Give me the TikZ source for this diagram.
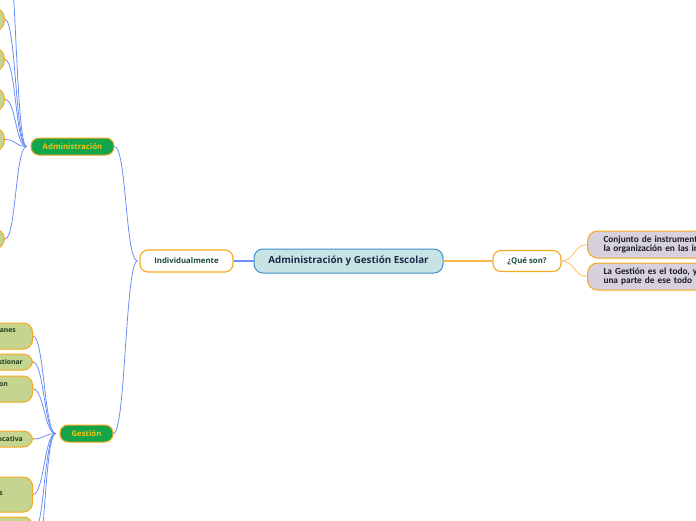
\documentclass[tikz,border=0pt]{standalone}
\usepackage{fontspec}
\setmainfont{Open Sans}
\newfontfamily\narrowfont[WordSpace=0.6]{Carlito}
\definecolor{rootfill}{HTML}{C8E3E3}
\definecolor{rootdraw}{HTML}{3E8FCB}
\definecolor{roottext}{HTML}{1B2B4B}
\definecolor{orangedraw}{HTML}{F7A81E}
\definecolor{orangelink}{HTML}{FDB64C}
\definecolor{greenfill}{HTML}{12A54A}
\definecolor{greentext}{HTML}{F4C20F}
\definecolor{olivefill}{HTML}{C5D48E}
\definecolor{olivetext}{HTML}{1F3B1A}
\definecolor{greyfill}{HTML}{D6D1DC}
\definecolor{greytext}{HTML}{1A1A2A}
\definecolor{bluelink}{HTML}{6B8EF5}
\definecolor{indtext}{HTML}{1D4A38}

\begin{document}
\begin{tikzpicture}[x=1pt, y=-1pt,
  rootbox/.style={draw=rootdraw, fill=rootfill, line width=1pt, rounded corners=9pt,
    inner sep=0pt, text=roottext, font=\fontsize{9.8}{11}\selectfont\bfseries},
  plainbox/.style={draw=orangedraw, fill=white, line width=1.1pt, rounded corners=8pt,
    inner sep=0pt, text=indtext, font=\fontsize{7.8}{9}\selectfont\bfseries},
  greenbox/.style={draw=orangedraw, fill=greenfill, line width=1pt, rounded corners=8pt,
    inner sep=0pt, text=greentext, font=\fontsize{7.8}{9}\selectfont\bfseries},
  oliveleaf/.style={draw=orangedraw, fill=olivefill, line width=1pt,
    minimum width=120pt, inner sep=0pt, anchor=east},
  fragtext/.style={anchor=east, inner sep=0pt, text=olivetext,
    font=\fontsize{6.8}{8}\selectfont\bfseries},
  greybox/.style={draw=orangedraw, fill=greyfill, line width=1pt, rounded corners=10pt,
    anchor=west, inner xsep=16pt, inner ysep=0pt, minimum height=27pt, text width=150pt,
    align=left, text=greytext, font=\narrowfont\fontsize{9.3}{9.6}\selectfont\bfseries},
  bluewire/.style={draw=bluelink, line width=0.8pt},
  orangewire/.style={draw=orangelink, line width=1.1pt}]
  \useasboundingbox (0,0) rectangle (696,520);
  \clip (0,0) rectangle (696,520);

  % Central topic and first level
  \node[rootbox, minimum width=189pt, minimum height=24pt] (root) at (348.5,261)
    {Administración y Gestión Escolar};
  \node[plainbox, minimum width=93pt, minimum height=22pt] (ind) at (186.5,261) {Individualmente};
  \node[plainbox, minimum width=68pt, minimum height=21pt] (qs) at (527,261) {¿Qué son?};

  % Second level
  \node[greenbox, minimum width=83pt, minimum height=17pt] (adm) at (72.5,146.5) {Administración};
  \node[greenbox, minimum width=53pt, minimum height=17pt] (ges) at (86.5,433.5) {Gestión};
  \node[greybox] (def1) at (587,244.5) {Conjunto de instrumentos\\la organización en las ins};
  \node[greybox] (def2) at (587,276.5) {La Gestión es el todo, y\\una parte de ese todo};

  % Links of the central topic
  \draw[bluewire, line width=1.1pt] (ind.east) -- (root.west);
  \draw[orangewire] (root.east) -- (qs.west);
  \foreach \d in {def1, def2} {
    \draw[orangewire, draw=orangelink!70] (qs.east) .. controls +(13,0) and +(-13,0) .. (\d.west);
  }
  \draw[bluewire] ([xshift=-2pt]ind.west) .. controls +(-12,0) and +(12,0) .. (adm.east);
  \draw[bluewire] ([xshift=-2pt]ind.west) .. controls +(-12,0) and +(12,0) .. (ges.east);

  % Administración leaves (cut by the left edge)
  \coordinate (admup) at (5,-70);
  \draw[bluewire] ([xshift=-4pt]adm.west) .. controls +(-11,0) and +(11,0) .. (admup);
  \foreach \y/\h [count=\i] in {19.5/25, 59.5/25, 99.5/25, 139.5/25, 239/22} {
    \node[oliveleaf, minimum height=\h pt, rounded corners=12pt] (a\i) at (5,\y) {};
    \draw[bluewire] ([xshift=-4pt]adm.west) .. controls +(-11,0) and +(11,0) .. (a\i.east);
  }

  % Gestión leaves (cut by the left edge)
  \coordinate (gesdown) at (33,585);
  \draw[bluewire] ([xshift=-4pt]ges.west) .. controls +(-11,0) and +(11,0) .. (gesdown);
  \foreach \y/\h [count=\i] in {336/26, 362/16, 389/26, 439/16, 494.5/35, 535/36} {
    \node[oliveleaf, minimum height=\h pt, rounded corners=9pt] (g\i) at (33,\y) {};
    \draw[bluewire] ([xshift=-4pt]ges.west) .. controls +(-11,0) and +(11,0) .. (g\i.east);
  }
  \node[fragtext] (g1t) at (16,331) {anes};
  \node[fragtext] (g2t) at (23,362) {stionar};
  \node[fragtext] (g3t) at (8,385) {on};
  \node[fragtext] (g4t) at (23,439) {ucativa};
  \node[fragtext] (g5t) at (3,494) {s};
\end{tikzpicture}
\end{document}
